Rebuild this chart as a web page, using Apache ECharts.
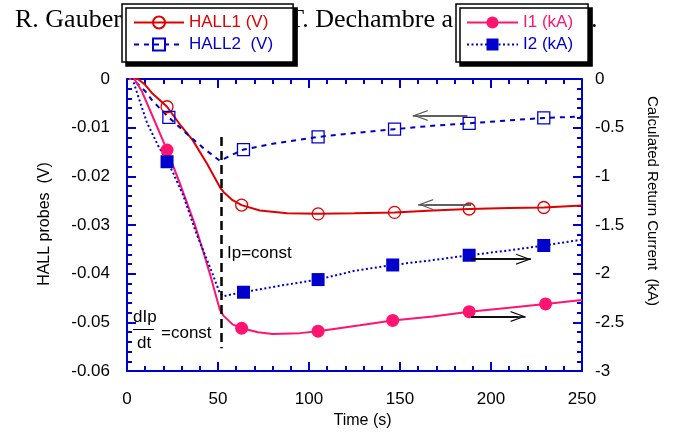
<!DOCTYPE html>
<html>
<head>
<meta charset="utf-8">
<script src="https://cdn.jsdelivr.net/npm/echarts@6/dist/echarts.min.js"></script>
<style>
html,body{margin:0;padding:0;background:#fff;}
#chart{width:680px;height:434px;}
</style>
</head>
<body>
<div id="chart"></div>
<script>
// ---- data ----
const hall1T = [0, 6, 10, 14, 22, 29, 36, 44, 51, 53, 58, 63, 73, 88, 105, 125, 147, 168, 188, 210, 229, 250];
const hall1V = [0, 0, -0.0012, -0.0030, -0.0057, -0.0093, -0.0125, -0.0174, -0.0222, -0.0232, -0.0249, -0.0259, -0.0270, -0.0276, -0.0277, -0.0276, -0.0274, -0.0270, -0.0267, -0.0265, -0.0264, -0.0260];
const hall1Marks = [22, 63, 105, 147, 188, 229];

const hall2T = [0, 3, 10, 14, 23, 33, 42, 51, 57, 64, 80, 105, 125, 147, 168, 188, 210, 229, 250];
const hall2V = [0, 0, -0.0025, -0.0045, -0.0079, -0.0113, -0.0142, -0.0168, -0.0157, -0.0145, -0.0133, -0.0119, -0.0111, -0.0103, -0.0096, -0.0091, -0.0085, -0.0080, -0.0077];
const hall2Marks = [23, 64, 105, 147, 188, 229];

const i1T = [0, 4, 8, 14, 22, 29, 37, 42, 46, 51, 53, 58, 63, 72, 80, 95, 105, 128, 146, 168, 188, 210, 230, 250];
const i1V = [0, 0, -0.12, -0.38, -0.73, -1.07, -1.48, -1.78, -2.03, -2.37, -2.43, -2.52, -2.56, -2.60, -2.62, -2.61, -2.59, -2.53, -2.48, -2.44, -2.39, -2.35, -2.31, -2.27];
const i1Marks = [22, 63, 105, 146, 188, 230];

const i2T = [0, 3, 11, 17, 22, 25, 31, 38, 47, 51, 53, 58, 64, 85, 105, 125, 146, 168, 188, 210, 229, 250];
const i2V = [0, 0, -0.45, -0.68, -0.85, -0.95, -1.20, -1.58, -2.00, -2.20, -2.23, -2.21, -2.19, -2.12, -2.06, -1.97, -1.91, -1.86, -1.81, -1.76, -1.71, -1.65];
const i2Marks = [22, 64, 105, 146, 188, 229];

// annotations (data coordinates)
const ipConstTime = 52;
const ipConstRange = [-0.0119, -0.0553];
const arrowHall2 = [187, 157, -0.0075];   // from t, to t, value (left axis)
const arrowHall1 = [189, 160, -0.0258];
const arrowI2 = [189, 222, -1.85];       // right axis
const arrowI1 = [189, 219, -2.44];

const xTicks = {min: 0, max: 250, interval: 50};
const leftTicks = {min: -0.06, max: 0, interval: 0.01};
const rightTicks = {min: -3, max: 0, interval: 0.5};

const names = {
  hall1: 'HALL1 (V)', hall2: 'HALL2  (V)', i1: 'I1 (kA)', i2: 'I2 (kA)'
};

// ---- styling ----
const RED = '#e00000', BLUE = '#0000cc', PINK = '#ff1470', AXIS = '#0000cc';
const FONT = "'Liberation Sans', Arial, sans-serif";
const CHEVRON = 'path://M0,10 L5,0 L10,10 L8.9,10 L5,2.2 L1.1,10 Z';

function build(ts, vs, marks) {
  return ts.map((t, i) => marks.indexOf(t) >= 0 ? {value: [t, vs[i]]} : {value: [t, vs[i]], symbol: 'none'});
}

function arrow(a, color) {
  const dir = a[1] > a[0] ? 1 : -1;
  const head = a[1] - dir * 4.1;
  return [
    [{coord: [a[0], a[2]], symbol: 'none'}, {coord: [a[1], a[2]], symbol: 'none'}],
    [{coord: [a[0], a[2]], symbol: 'none'}, {coord: [head, a[2]], symbol: CHEVRON, symbolSize: [11, 15]}]
  ].map(p => { p[0].lineStyle = {color: color, width: 1.5, type: 'solid'}; return p; });
}

function xAxisDef(pos, labels) {
  return {
    type: 'value', gridIndex: 0, position: pos,
    min: xTicks.min, max: xTicks.max, interval: xTicks.interval,
    axisLine: {show: true, onZero: false, lineStyle: {color: AXIS, width: 2}},
    axisTick: {show: true, inside: true, length: 9, lineStyle: {color: AXIS, width: 2}},
    minorTick: {show: true, splitNumber: 5, length: 5, lineStyle: {color: AXIS, width: 2}},
    splitLine: {show: false}, minorSplitLine: {show: false},
    axisLabel: {show: labels, color: '#000', fontSize: 17, fontFamily: FONT, margin: 20},
    name: labels ? 'Time (s)' : '',
    nameLocation: 'middle', nameGap: 34,
    nameTextStyle: {color: '#000', fontSize: 16, fontFamily: FONT, padding: [0, 0, 0, 16]}
  };
}

const chart = echarts.init(document.getElementById('chart'), null, {renderer: 'canvas'});

const option = {
  animation: false,
  backgroundColor: '#fff',
  grid: {left: 127, right: 98, top: 79, bottom: 53, containLabel: false},
  xAxis: [xAxisDef('bottom', true), xAxisDef('top', false)],
  yAxis: [
    {
      type: 'value', position: 'left',
      min: leftTicks.min, max: leftTicks.max, interval: leftTicks.interval,
      axisLine: {show: true, onZero: false, lineStyle: {color: AXIS, width: 2}},
      axisTick: {show: true, inside: true, length: 9, lineStyle: {color: AXIS, width: 2}},
      minorTick: {show: true, splitNumber: 5, length: 5, lineStyle: {color: AXIS, width: 2}},
      splitLine: {show: false},
      axisLabel: {color: '#000', fontSize: 17, fontFamily: FONT, margin: 17},
      name: 'HALL probes  (V)', nameLocation: 'middle', nameGap: 74,
      nameTextStyle: {color: '#000', fontSize: 16, fontFamily: FONT, padding: [0, 0, 0, 2]}
    },
    {
      type: 'value', position: 'right',
      min: rightTicks.min, max: rightTicks.max, interval: rightTicks.interval,
      axisLine: {show: true, onZero: false, lineStyle: {color: AXIS, width: 2}},
      axisTick: {show: true, inside: true, length: 9, lineStyle: {color: AXIS, width: 2}},
      minorTick: {show: true, splitNumber: 5, length: 5, lineStyle: {color: AXIS, width: 2}},
      splitLine: {show: false},
      axisLabel: {color: '#000', fontSize: 17, fontFamily: FONT, margin: 13},
      name: 'Calculated Return Current  (kA)', nameLocation: 'middle', nameGap: 63, nameRotate: -90,
      nameTextStyle: {color: '#000', fontSize: 15, fontFamily: FONT, padding: [0, 48, 0, 0]}
    }
  ],
  legend: [
    {
      data: [
        {name: names.hall1, textStyle: {color: RED}},
        {name: names.hall2, textStyle: {color: BLUE}}
      ],
      orient: 'vertical', left: 122, top: 4,
      itemWidth: 50, itemHeight: 15, itemGap: 5,
      padding: [10, 20, 9, 11],
      backgroundColor: '#fff', borderColor: '#000', borderWidth: 1.5, borderRadius: 0,
      shadowColor: '#000', shadowBlur: 0, shadowOffsetX: 4, shadowOffsetY: 4,
      selectedMode: false,
      textStyle: {fontSize: 17, fontFamily: FONT, lineHeight: 17}
    },
    {
      data: [
        {name: names.i1, textStyle: {color: PINK}},
        {name: names.i2, textStyle: {color: BLUE}}
      ],
      orient: 'vertical', left: 456, top: 4,
      itemWidth: 51, itemHeight: 15, itemGap: 5,
      padding: [10, 15, 9, 10],
      backgroundColor: '#fff', borderColor: '#000', borderWidth: 1.5, borderRadius: 0,
      shadowColor: '#000', shadowBlur: 0, shadowOffsetX: 4, shadowOffsetY: 4,
      selectedMode: false,
      textStyle: {fontSize: 17, fontFamily: FONT, lineHeight: 17}
    }
  ],
  graphic: [
    {type: 'text', z: 0, left: 15, top: 7, style: {text: 'R. Gaubert', font: "26px 'Liberation Serif', serif", fill: '#000'}},
    {type: 'text', z: 0, right: 680 - 453, top: 7, style: {text: 'T. Dechambre a', font: "26px 'Liberation Serif', serif", fill: '#000'}},
    {type: 'text', z: 0, left: 591, top: 7, style: {text: '.', font: "26px 'Liberation Serif', serif", fill: '#000'}},
    {type: 'text', z: 50, left: 227, top: 245, style: {text: 'Ip=const', font: "17px 'Liberation Sans', Arial", fill: '#000'}},
    {type: 'text', z: 50, left: 133, top: 309, style: {text: 'dIp', font: "17px 'Liberation Sans', Arial", fill: '#000'}},
    {type: 'line', z: 50, shape: {x1: 133, y1: 329.5, x2: 154, y2: 329.5}, style: {stroke: '#000', lineWidth: 1}},
    {type: 'text', z: 50, left: 137, top: 335, style: {text: 'dt', font: "17px 'Liberation Sans', Arial", fill: '#000'}},
    {type: 'text', z: 50, left: 161, top: 325, style: {text: '=const', font: "17px 'Liberation Sans', Arial", fill: '#000'}}
  ],
  series: [
    {
      name: names.hall1, type: 'line', xAxisIndex: 0, yAxisIndex: 0,
      data: build(hall1T, hall1V, hall1Marks),
      symbol: 'circle', symbolSize: 12, showAllSymbol: true,
      itemStyle: {color: 'rgba(255,255,255,0)', borderColor: RED, borderWidth: 1.3},
      lineStyle: {color: RED, width: 2},
      z: 3,
      markLine: {
        silent: true, symbol: ['none', 'none'], label: {show: false},
        lineStyle: {color: '#000', width: 2.5, type: [9, 5]},
        data: [
          [{coord: [ipConstTime, ipConstRange[0]]}, {coord: [ipConstTime, ipConstRange[1]]}]
        ].concat(arrow(arrowHall1, '#555'))
      }
    },
    {
      name: names.hall2, type: 'line', xAxisIndex: 0, yAxisIndex: 0,
      data: build(hall2T, hall2V, hall2Marks),
      symbol: 'rect', symbolSize: 12, showAllSymbol: true,
      itemStyle: {color: 'rgba(255,255,255,0)', borderColor: BLUE, borderWidth: 1.3},
      lineStyle: {color: BLUE, width: 2, type: [5, 5]},
      z: 3,
      markLine: {
        silent: true, symbol: ['none', 'none'], label: {show: false},
        data: arrow(arrowHall2, '#555')
      }
    },
    {
      name: names.i1, type: 'line', xAxisIndex: 0, yAxisIndex: 1,
      data: build(i1T, i1V, i1Marks),
      symbol: 'circle', symbolSize: 13, showAllSymbol: true,
      itemStyle: {color: PINK},
      lineStyle: {color: PINK, width: 2},
      z: 3,
      markLine: {
        silent: true, symbol: ['none', 'none'], label: {show: false},
        data: arrow(arrowI1, '#000')
      }
    },
    {
      name: names.i2, type: 'line', xAxisIndex: 0, yAxisIndex: 1,
      data: build(i2T, i2V, i2Marks),
      symbol: 'rect', symbolSize: 13, showAllSymbol: true,
      itemStyle: {color: BLUE},
      lineStyle: {color: BLUE, width: 2, type: [2, 2.5]},
      z: 3,
      markLine: {
        silent: true, symbol: ['none', 'none'], label: {show: false},
        data: arrow(arrowI2, '#000')
      }
    }
  ]
};
chart.setOption(option);
</script>
</body>
</html>
